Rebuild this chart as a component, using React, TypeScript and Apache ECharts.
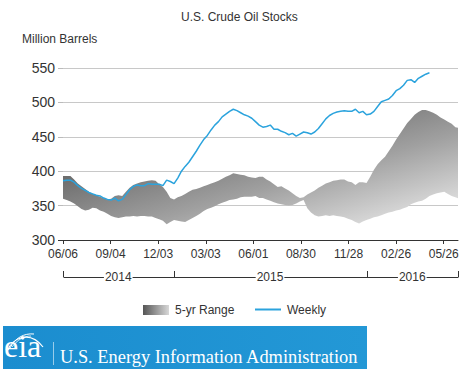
import React, { useEffect, useRef } from "react";
import * as echarts from "echarts";

// Weekly stocks, one value per week starting Friday 06/06/2014 (million barrels)
const weeklyStocks = [
  386, 387, 387, 384, 379, 375, 372, 369, 367, 365,
  364, 361, 359, 358, 361, 357, 359, 366, 373, 378,
  380, 379, 379, 382, 381, 381, 381, 379, 387, 385,
  382, 390, 400, 407, 413, 421, 429, 438, 446, 452,
  460, 467, 472, 479, 483, 487, 490, 488, 485, 482,
  480, 477, 472, 467, 464, 465, 467, 461, 461, 458,
  456, 453, 455, 451, 454, 457, 456, 454, 457, 462,
  469, 476, 481, 484, 486, 487, 488, 487, 487, 490,
  485, 487, 482, 483, 487, 494, 501, 503, 505, 510,
  517, 520, 525, 532, 533, 529, 535, 538, 541, 543,
];

// 5-year range, upper and lower bounds per week starting 06/06/2014
const rangeMax = [
  393, 393, 393, 388, 382, 378, 374, 370, 367, 365,
  363, 361, 359, 360, 364, 365, 364, 370, 376, 380,
  382, 384, 385, 386, 387, 386, 381, 377, 370, 361,
  359, 362, 364, 367, 370, 373, 374, 376, 378, 380,
  382, 384, 386, 389, 392, 394, 397, 396, 395, 394,
  392, 391, 390, 392, 392, 388, 385, 381, 377, 378,
  375, 372, 368, 364, 361, 362, 366, 369, 372, 376,
  379, 382, 384, 386, 387, 388, 388, 385, 384, 380,
  384, 384, 383, 392, 402, 410, 416, 421, 429, 437,
  446, 454, 462, 470, 476, 482, 486, 489, 489, 487,
  485, 482, 478, 475, 472, 469, 464, 463,
];
const rangeMin = [
  360, 358, 356, 353, 349, 345, 343, 344, 347, 346,
  343, 341, 338, 335, 333, 332, 333, 334, 334, 335,
  334, 335, 335, 334, 334, 332, 330, 328, 323, 326,
  329, 328, 327, 326, 329, 332, 335, 338, 342, 345,
  347, 349, 352, 354, 356, 358, 359, 360, 362, 363,
  363, 363, 364, 361, 361, 359, 357, 355, 353, 352,
  351, 350, 351, 353, 356, 358, 346, 340, 336, 334,
  335, 336, 335, 336, 335, 334, 333, 331, 329, 326,
  324, 327, 329, 331, 333, 334, 336, 338, 340, 341,
  343, 344, 346, 348, 352, 354, 356, 357, 360, 364,
  366, 368, 369, 370, 367, 364, 362, 360,
];

// X axis: days since 06/06/2014
const xTickDays = [0, 90, 180, 270, 360, 450, 540, 630, 720];
const xTickLabels = ["06/06", "09/04", "12/03", "03/03", "06/01", "08/30", "11/28", "02/26", "05/26"];
const xMaxDay = 747;
const yearLabels = ["2014", "2015", "2016"];
const yearBoundDays = [0, 209, 574, 747];
const yTicks = [300, 350, 400, 450, 500, 550];

const FONT = "'Liberation Sans', Arial, sans-serif";
const SERIF = "'Liberation Serif', 'Times New Roman', serif";
const BLUE = "#2ba3dd";

export default function App() {
  const ref = useRef<HTMLDivElement>(null);
  useEffect(() => {
    if (!ref.current) return;
    const chart = echarts.init(ref.current, undefined, { renderer: "svg" });
    const weekly = weeklyStocks.map((v, i) => [i * 7, v]);

    const bandFill = new echarts.graphic.LinearGradient(0, 0, 1, 1, [
      { offset: 0, color: "#505050" },
      { offset: 0.3, color: "#6e6e6e" },
      { offset: 0.45, color: "#878787" },
      { offset: 0.6, color: "#a0a0a0" },
      { offset: 0.9, color: "#dcdcdc" },
      { offset: 1, color: "#e6e6e6" },
    ]);

    chart.setOption({
      animation: false,
      backgroundColor: "#ffffff",
      title: {
        text: "U.S. Crude Oil Stocks",
        left: 176,
        top: 6,
        textStyle: { fontFamily: FONT, fontSize: 12, fontWeight: "normal", color: "#333" },
      },
      grid: { left: 63, right: 10, top: 68, bottom: 138 },
      xAxis: {
        type: "value",
        min: 0,
        max: xMaxDay,
        axisLine: { show: true, lineStyle: { color: "#333", width: 1 } },
        axisTick: { show: true, length: 4, lineStyle: { color: "#333" }, customValues: xTickDays },
        axisLabel: {
          customValues: xTickDays,
          margin: 8,
          fontFamily: FONT,
          fontSize: 12,
          color: "#333",
          formatter: (v: number) => xTickLabels[xTickDays.indexOf(Math.round(v))] ?? "",
        },
        splitLine: { show: false },
      },
      yAxis: {
        type: "value",
        min: yTicks[0],
        max: yTicks[yTicks.length - 1],
        interval: 50,
        axisLine: { show: false },
        axisTick: { show: true, length: 5, lineStyle: { color: "#bbb" } },
        axisLabel: { margin: 8, fontFamily: FONT, fontSize: 14, color: "#333" },
        splitLine: { show: true, lineStyle: { color: "#c8c8c8", width: 1 } },
      },
      series: [
        {
          name: "5-yr Range",
          type: "custom",
          data: [0],
          silent: true,
          renderItem: (params: any, api: any) => {
            const top = rangeMax.map((v, i) => api.coord([i * 7, v]));
            const bottom = rangeMin.map((v, i) => api.coord([i * 7, v])).reverse();
            const cs = params.coordSys;
            return {
              type: "polygon",
              shape: { points: top.concat(bottom) },
              style: { fill: bandFill, stroke: "none" },
              clipPath: { type: "rect", shape: { x: cs.x, y: cs.y, width: cs.width, height: cs.height } },
            };
          },
        },
        {
          name: "Weekly",
          type: "line",
          data: weekly,
          symbol: "none",
          lineStyle: { color: BLUE, width: 1.5 },
          silent: true,
          z: 5,
        },
      ],
    });

    const px = (d: number) => chart.convertToPixel({ xAxisIndex: 0 }, d) as number;
    const y300 = chart.convertToPixel({ yAxisIndex: 0 }, yTicks[0]) as number;
    const yb = 277;
    const graphics: any[] = [
      {
        type: "text",
        left: 22,
        top: 33,
        style: { text: "Million Barrels", fontFamily: FONT, fontSize: 12, fill: "#333" },
      },
      {
        type: "line",
        shape: { x1: 58, y1: Math.round(y300) + 0.5, x2: 64, y2: Math.round(y300) + 0.5 },
        style: { stroke: "#333", lineWidth: 1 },
        z: 10,
      },
    ];
    yearBoundDays.forEach((d) => {
      const x = Math.round(px(d)) + 0.5;
      graphics.push({ type: "line", shape: { x1: x, y1: yb - 6, x2: x, y2: yb }, style: { stroke: "#333", lineWidth: 1 } });
    });
    graphics.push({
      type: "line",
      shape: { x1: Math.round(px(0)) + 0.5, y1: yb + 0.5, x2: Math.round(px(xMaxDay)) + 0.5, y2: yb + 0.5 },
      style: { stroke: "#333", lineWidth: 1 },
    });
    yearLabels.forEach((t, i) => {
      const cx = (px(yearBoundDays[i]) + px(yearBoundDays[i + 1])) / 2;
      graphics.push({
        type: "text",
        x: cx,
        y: yb,
        style: {
          text: t,
          fontFamily: FONT,
          fontSize: 12,
          fill: "#333",
          align: "center",
          verticalAlign: "middle",
          backgroundColor: "#fff",
          padding: [0, 1],
        },
      });
    });
    // legend
    graphics.push(
      {
        type: "rect",
        shape: { x: 143, y: 305, width: 26, height: 10 },
        style: {
          fill: new echarts.graphic.LinearGradient(0, 0, 1, 0, [
            { offset: 0, color: "#555" },
            { offset: 1, color: "#d8d8d8" },
          ]),
        },
      },
      {
        type: "text",
        x: 175,
        y: 310,
        style: { text: "5-yr Range", fontFamily: FONT, fontSize: 12, fill: "#333", verticalAlign: "middle" },
      },
      { type: "line", shape: { x1: 255, y1: 309.5, x2: 281, y2: 309.5 }, style: { stroke: BLUE, lineWidth: 2 } },
      {
        type: "text",
        x: 287,
        y: 310,
        style: { text: "Weekly", fontFamily: FONT, fontSize: 12, fill: "#333", verticalAlign: "middle" },
      }
    );
    // EIA banner
    graphics.push(
      {
        type: "rect",
        shape: { x: 3, y: 326, width: 364, height: 43 },
        style: {
          fill: new echarts.graphic.LinearGradient(0, 0, 1, 0, [
            { offset: 0, color: "#1b8dcf" },
            { offset: 1, color: "#2398d6" },
          ]),
        },
      },
      {
        type: "text",
        x: 4,
        y: 362,
        style: { text: "eia", fontFamily: SERIF, fontSize: 32, fill: "#fff", verticalAlign: "bottom" },
      },
      {
        type: "bezierCurve",
        shape: { x1: 8, y1: 350, cpx1: 12, cpy1: 338, cpx2: 30, cpy2: 330, x2: 43, y2: 347 },
        style: { stroke: "#fff", lineWidth: 1.2, fill: "none" },
      },
      {
        type: "bezierCurve",
        shape: { x1: 10, y1: 348, cpx1: 15, cpy1: 338, cpx2: 24, cpy2: 333, x2: 34, y2: 334 },
        style: { stroke: "#fff", lineWidth: 1, fill: "none" },
      },
      {
        type: "bezierCurve",
        shape: { x1: 12, y1: 347, cpx1: 17, cpy1: 340, cpx2: 24, cpy2: 336, x2: 31, y2: 336 },
        style: { stroke: "#fff", lineWidth: 0.8, fill: "none" },
      },
      {
        type: "line",
        shape: { x1: 53.5, y1: 342, x2: 53.5, y2: 365 },
        style: { stroke: "rgba(255,255,255,0.55)", lineWidth: 1 },
      },
      {
        type: "text",
        x: 60,
        y: 357,
        style: {
          text: "U.S. Energy Information Administration",
          fontFamily: SERIF,
          fontSize: 18.4,
          fill: "#fff",
          verticalAlign: "middle",
        },
      }
    );
    chart.setOption({ graphic: graphics });

    return () => chart.dispose();
  }, []);

  return (
    <div
      ref={ref}
      style={{ position: "absolute", left: 0, top: 0, width: 468, height: 378, background: "#fff" }}
    />
  );
}
